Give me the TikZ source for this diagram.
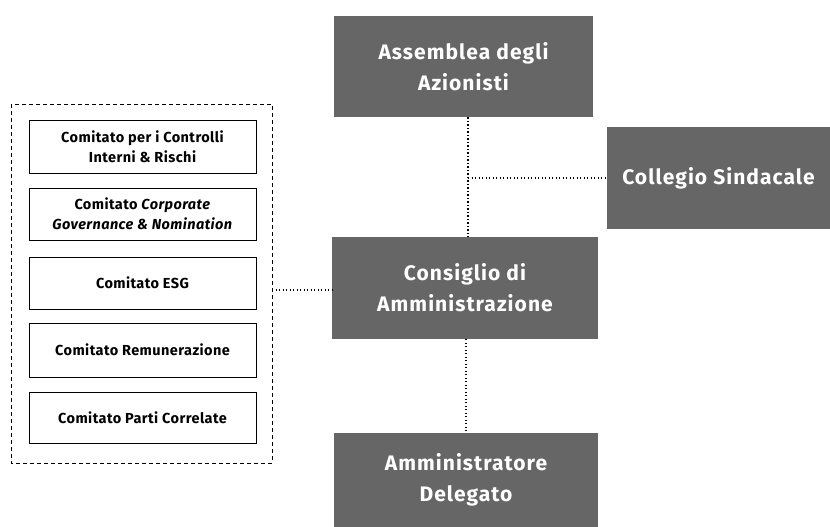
\documentclass[tikz,border=0pt]{standalone}
\usepackage{fontspec}
\setmainfont{Fira Sans}
\begin{document}
\begin{tikzpicture}[x=1pt,y=-1pt,
  bigbox/.style={draw=none,fill=boxgray,text=white,font=\fontsize{21}{31}\selectfont\bfseries\addfontfeatures{LetterSpace=5},align=center,inner sep=0pt},
  smallbox/.style={draw=black,line width=0.8pt,fill=white,font=\fontsize{14.5}{20}\selectfont\bfseries\addfontfeatures{LetterSpace=3},align=center,inner sep=0pt,minimum width=227pt},
  dotline/.style={line width=1.3pt,dotted,dash pattern=on 1.3pt off 2.2pt}]
\definecolor{boxgray}{HTML}{666666}
\useasboundingbox (0,0) rectangle (830,527);
\node[bigbox,minimum width=259pt,minimum height=101pt] (ass) at (463.5,66.5) {Assemblea degli\\Azionisti};
\node[bigbox,minimum width=223pt,minimum height=102pt] (col) at (718.5,178) {Collegio Sindacale};
\node[bigbox,minimum width=266pt,minimum height=102pt] (cda) at (465,288) {Consiglio di\\Amministrazione};
\node[bigbox,minimum width=264pt,minimum height=94pt] (ad) at (466,480) {Amministratore\\Delegato};
\draw[black,line width=0.9pt,dashed,dash pattern=on 4pt off 3pt] (11,104) rectangle (272,463);
\coordinate (cont) at (272,290);
\node[smallbox,minimum height=53pt] (c1) at (142.5,146.5) {Comitato per i Controlli\\Interni \& Rischi};
\node[smallbox,minimum height=52pt] (c2) at (142.5,214) {Comitato \textit{Corporate}\\\textit{Governance \& Nomination}};
\node[smallbox,minimum height=52pt] (c3) at (142.5,283) {Comitato ESG};
\node[smallbox,minimum height=54pt] (c4) at (142.5,350) {Comitato Remunerazione};
\node[smallbox,minimum height=51pt] (c5) at (142.5,417.5) {Comitato Parti Correlate};
\coordinate (j) at (468,178);
\draw[dotline] (ass.south -| j) -- (cda.north -| j);
\draw[dotline] (j) -- (col.west);
\draw[dotline] (cont) -- (cda.west |- cont);
\draw[dotline] (466,339) -- (ad.north -| 466,0);
\end{tikzpicture}
\end{document}
